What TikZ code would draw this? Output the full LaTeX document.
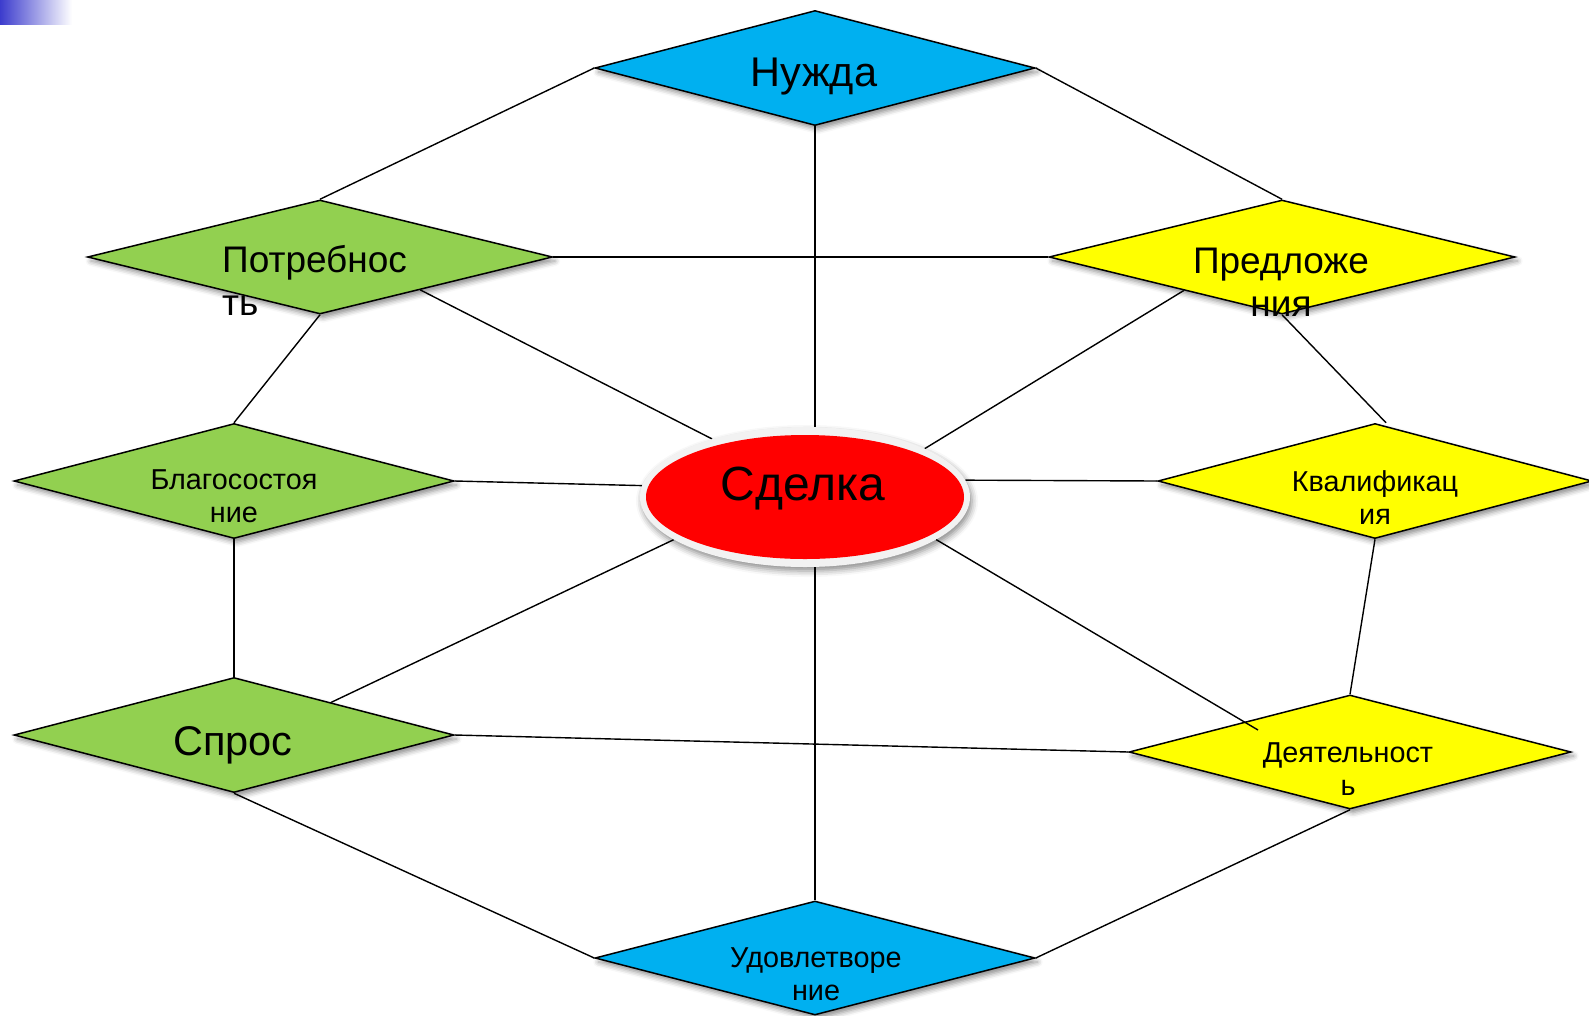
\documentclass[tikz,border=0pt]{standalone}
\usepackage{fontspec}
\setmainfont{Liberation Sans}
\usetikzlibrary{shapes.geometric,shadows.blur,calc}
\definecolor{cblue}{RGB}{0,176,240}
\definecolor{cgreen}{RGB}{146,208,80}
\definecolor{cyellow}{RGB}{255,255,0}
\definecolor{cred}{RGB}{255,0,0}
\definecolor{ringgray}{RGB}{242,242,242}
\definecolor{gradblue}{RGB}{60,60,205}
\pgfdeclarelayer{bg}
\pgfsetlayers{bg,main}
\begin{document}
\begin{tikzpicture}[x=1pt,y=-1pt,
  dia/.style={shape=diamond, draw=black, line width=1.5pt, inner sep=0pt,
    blur shadow={shadow xshift=3pt, shadow yshift=-4pt, shadow blur radius=5pt, shadow opacity=45}},
  conn/.style={draw=black, line width=1.4pt},
  big/.style={font=\fontsize{41.5}{48}\selectfont, inner sep=0pt},
  mid/.style={font=\fontsize{37}{43}\selectfont, inner sep=0pt},
  small/.style={font=\fontsize{28.8}{33}\selectfont, inner sep=0pt}]
\useasboundingbox (0,0) rectangle (1589,1015);
\shade[left color=gradblue, right color=white] (0,0) rectangle (72,24);

% diamonds
\node[dia, fill=cblue,   minimum width=440pt, minimum height=115pt] (nuzhda) at (815,68) {};
\node[dia, fill=cgreen,  minimum width=465pt, minimum height=114pt] (potr)   at (320,257) {};
\node[dia, fill=cyellow, minimum width=466pt, minimum height=114pt] (pred)   at (1282,257) {};
\node[dia, fill=cgreen,  minimum width=440pt, minimum height=115pt] (blag)   at (234,481) {};
\node[dia, fill=cyellow, minimum width=434pt, minimum height=115pt] (kval)   at (1375,481) {};
\node[dia, fill=cgreen,  minimum width=440pt, minimum height=115pt] (spros)  at (234,735) {};
\node[dia, fill=cyellow, minimum width=442pt, minimum height=114pt] (deyat)  at (1350,752) {};
\node[dia, fill=cblue,   minimum width=440pt, minimum height=114pt] (udov)   at (815,958) {};

% central ellipse
\node[ellipse, fill=ringgray, inner sep=0pt, minimum width=330pt, minimum height=140pt,
  blur shadow={shadow xshift=2pt, shadow yshift=-4pt, shadow blur radius=6pt, shadow opacity=45}] (ring) at (805,497) {};
\node[ellipse, fill=cred, inner sep=0pt, minimum width=318pt, minimum height=124pt] (sdelka) at (805,497) {};

% texts (base anchor of a multi-line node = baseline of its last line)
\node[big, anchor=base] (tnuzhda) at (814,86) {Нужда};
\node[mid, anchor=base west, align=left] (tpotr) at (222,315) {Потребнос\\ть};
\node[mid, anchor=base, align=center] (tpred) at (1281,316) {Предложе\\ния};
\node[small, anchor=base, align=center] (tblag) at (234,522) {Благосостоя\\ние};
\node[small, anchor=base, align=center] (tkval) at (1375,524) {Квалификац\\ия};
\node[big, anchor=base] (tspros) at (233,755) {Спрос};
\node[small, anchor=base, align=center] (tdeyat) at (1348,795) {Деятельност\\ь};
\node[small, anchor=base, align=center] (tudov) at (816,1000) {Удовлетворе\\ние};
\node[font=\fontsize{48}{56}\selectfont, inner sep=0pt, anchor=base] (tsdelka) at (803,500) {Сделка};

% connectors
\begin{pgfonlayer}{bg}
\draw[conn] (nuzhda.west) -- (potr.north);
\draw[conn] (nuzhda.east) -- (pred.north);
\draw[conn] (nuzhda.south) -- (nuzhda.south |- ring.north);
\draw[conn] (potr.east) -- (pred.west);
\draw[conn] ($(potr.east)!0.57!(potr.south)$) -- (ring.148);
\draw[conn] (potr.south) -- (blag.north);
\draw[conn] ($(pred.west)!0.58!(pred.south)$) -- (ring.22);
\draw[conn] (pred.south) -- ($(kval.north)+(11,0)$);
\draw[conn] (blag.east) -- (ring.176);
\draw[conn] (ring.6) -- (kval.west);
\draw[conn] (blag.south) -- (spros.north);
\draw[conn] ($(spros.north)!0.44!(spros.east)$) -- (ring.198);
\draw[conn] (udov.north |- ring.south) -- (udov.north);
\draw[conn] (spros.east) -- (deyat.west);
\draw[conn] (kval.south) -- (deyat.north);
\draw[conn] (spros.south) -- (udov.west);
\draw[conn] (deyat.south) -- (udov.east);
\end{pgfonlayer}
\draw[conn] (ring.-18) -- ($(deyat.center)+(-92,-22)$);
\end{tikzpicture}
\end{document}
